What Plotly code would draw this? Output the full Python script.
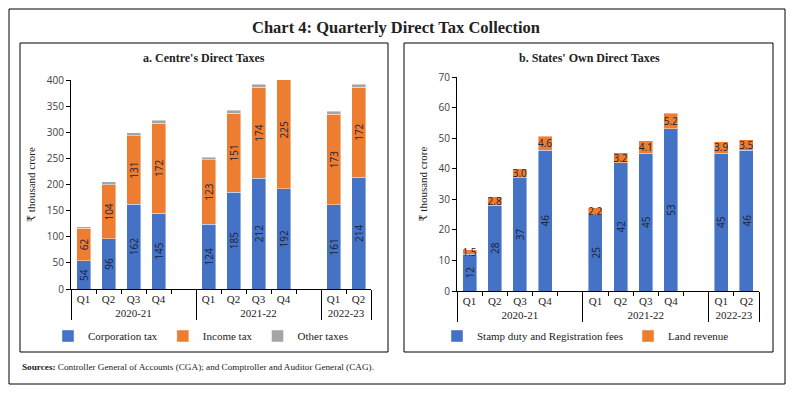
import plotly.graph_objects as go

# ---------------- data ----------------
years = ["2020-21"] * 5 + ["2021-22"] * 5 + ["2022-23"] * 2
quarters = ["Q1", "Q2", "Q3", "Q4", " ", "Q1", "Q2", "Q3", "Q4", " ", "Q1", "Q2"]

corporation_tax = [54, 96, 162, 145, None, 124, 185, 212, 192, None, 161, 214]
income_tax = [62, 104, 131, 172, None, 123, 151, 174, 225, None, 173, 172]
other_taxes = [3, 5, 6, 6, None, 5, 6, 6, 6, None, 6, 6]

stamp_duty = [12, 28, 37, 46, None, 25, 42, 45, 53, None, 45, 46]
land_revenue = [1.5, 2.8, 3.0, 4.6, None, 2.2, 3.2, 4.1, 5.2, None, 3.9, 3.5]

BLUE = "#4472C4"
ORANGE = "#ED7D31"
GREY = "#A5A5A5"
SERIF = "Liberation Serif, DejaVu Serif, serif"
SANS = "Open Sans, Noto Sans, sans-serif"
W, H = 792, 396


def fmt(vals, nd=0):
    return ["" if v is None else f"{v:.{nd}f}" for v in vals]


x = [years, quarters]
fig = go.Figure()
lab_font = dict(family=SANS, size=11, color="#1c2238")
edge = dict(color="rgba(255,255,255,0.7)", width=0.6)

# ---- panel a ----
fig.add_trace(go.Bar(x=x, y=corporation_tax, name="Corporation tax", marker_color=BLUE,
                     marker_line=edge,
                     text=fmt(corporation_tax), textposition="inside", textangle=-90,
                     insidetextanchor="middle", textfont=lab_font,
                     xaxis="x", yaxis="y", legend="legend"))
fig.add_trace(go.Bar(x=x, y=income_tax, name="Income tax", marker_color=ORANGE,
                     marker_line=edge,
                     text=fmt(income_tax), textposition="inside", textangle=-90,
                     insidetextanchor="middle", textfont=lab_font,
                     xaxis="x", yaxis="y", legend="legend"))
fig.add_trace(go.Bar(x=x, y=other_taxes, name="Other taxes", marker_color=GREY,
                     marker_line=edge,
                     xaxis="x", yaxis="y", legend="legend"))

# ---- panel b ----
fig.add_trace(go.Bar(x=x, y=stamp_duty, name="Stamp duty and Registration fees", marker_color=BLUE,
                     marker_line=edge,
                     text=fmt(stamp_duty), textposition="inside", textangle=-90,
                     insidetextanchor="middle", textfont=lab_font,
                     xaxis="x2", yaxis="y2", legend="legend2"))
fig.add_trace(go.Bar(x=x, y=land_revenue, name="Land revenue", marker_color=ORANGE,
                     marker_line=edge,
                     text=fmt(land_revenue, 1), textposition="inside", textangle=0,
                     constraintext="none", insidetextanchor="middle",
                     textfont=dict(family=SANS, size=10, color="#1c2238"),
                     xaxis="x2", yaxis="y2", legend="legend2"))

axis_common = dict(showline=True, linecolor="#000", linewidth=1, ticks="outside",
                   tickcolor="#000", ticklen=4, showgrid=False, zeroline=False,
                   automargin=False,
                   tickfont=dict(family=SANS, size=10, color="#404040"))
xaxis_common = dict(axis_common, type="multicategory", showdividers=True,
                    dividercolor="#000", dividerwidth=1, tickangle=0,
                    tickfont=dict(family=SERIF, size=11, color="#222"))
leg_common = dict(orientation="h", xanchor="left", yanchor="middle",
                  font=dict(family=SERIF, size=11, color="#222"),
                  itemwidth=30, traceorder="normal", bgcolor="rgba(0,0,0,0)")

fig.update_layout(
    width=W, height=H,
    margin=dict(l=0, r=0, t=0, b=0, autoexpand=False),
    paper_bgcolor="white", plot_bgcolor="white",
    barmode="stack", bargap=0.44,
    uniformtext=dict(mode="show", minsize=9),
    xaxis=dict(xaxis_common, domain=[71 / W, 371 / W], anchor="y"),
    yaxis=dict(axis_common, domain=[(H - 289) / H, (H - 80) / H], range=[0, 400], dtick=50,
               anchor="x",
               title=dict(text="₹ thousand crore", font=dict(family=SERIF, size=11, color="#222"),
                          standoff=8)),
    xaxis2=dict(xaxis_common, domain=[457 / W, 759 / W], anchor="y2"),
    yaxis2=dict(axis_common, domain=[(H - 291) / H, (H - 77) / H], range=[0, 70], dtick=10,
                anchor="x2",
                title=dict(text="₹ thousand crore", font=dict(family=SERIF, size=11, color="#222"),
                           standoff=8)),
    legend=dict(leg_common, x=48 / W, y=(H - 336) / H),
    legend2=dict(leg_common, x=437 / W, y=(H - 336) / H),
    showlegend=True,
)

# frames
fig.add_shape(type="rect", xref="paper", yref="paper", x0=9 / W, x1=785 / W,
              y0=(H - 384) / H, y1=(H - 9) / H, line=dict(color="#000", width=1))
fig.add_shape(type="rect", xref="paper", yref="paper", x0=20 / W, x1=388 / W,
              y0=(H - 352) / H, y1=(H - 43) / H, line=dict(color="#000", width=1))
fig.add_shape(type="rect", xref="paper", yref="paper", x0=404 / W, x1=773 / W,
              y0=(H - 352) / H, y1=(H - 43) / H, line=dict(color="#000", width=1))

# titles
fig.add_annotation(text="<b>Chart 4: Quarterly Direct Tax Collection</b>", xref="paper", yref="paper",
                   x=396 / W, y=(H - 27) / H, xanchor="center", yanchor="middle", showarrow=False,
                   font=dict(family=SERIF, size=16.5, color="#222"))
fig.add_annotation(text="<b>a. Centre's Direct Taxes</b>", xref="paper", yref="paper",
                   x=204 / W, y=(H - 58) / H, xanchor="center", yanchor="middle", showarrow=False,
                   font=dict(family=SERIF, size=12, color="#222"))
fig.add_annotation(text="<b>b. States' Own Direct Taxes</b>", xref="paper", yref="paper",
                   x=589 / W, y=(H - 58) / H, xanchor="center", yanchor="middle", showarrow=False,
                   font=dict(family=SERIF, size=12, color="#222"))
fig.add_annotation(text="<b>Sources:</b> Controller General of Accounts (CGA); and Comptroller and Auditor General (CAG).",
                   xref="paper", yref="paper", x=20 / W, y=(H - 367) / H, xanchor="left",
                   yanchor="middle", showarrow=False, font=dict(family=SERIF, size=9.2, color="#222"))

fig.write_html("out.html", config={"displayModeBar": False},
               post_script="document.body.style.margin='0';")
